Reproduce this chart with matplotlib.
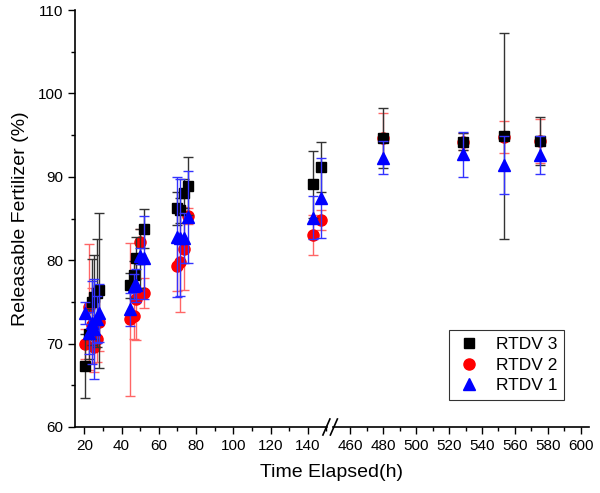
import numpy as np
import matplotlib
matplotlib.use("Agg")
import matplotlib.pyplot as plt
from matplotlib.lines import Line2D

plt.rcParams["font.family"] = ["Liberation Sans", "DejaVu Sans"]

# ==========================
# DATA
# ==========================

time_h = [20.5, 22.7, 24.0, 25.2, 26.6, 28.0,
          44.8, 46.5, 48.0, 49.7, 51.8,
          69.8, 71.6, 73.6, 75.5,
          142.6, 147.0,
          480, 528.5, 553.5, 575.5]

rtdv3 = [67.3, 71.2, 75.0, 75.6, 76.1, 76.4,
         77.0, 78.2, 80.3, 80.2, 83.8,
         86.2, 86.0, 88.0, 88.9,
         89.1, 91.2,
         94.6, 94.2, 94.9, 94.3]
rtdv3_err = [3.8, 3.0, 5.2, 5.0, 6.5, 9.3,
             1.5, 1.7, 2.5, 3.5, 2.3,
             2.0, 1.5, 1.7, 3.5,
             4.0, 3.0,
             3.6, 1.0, 12.3, 2.9]

rtdv2 = [70.0, 74.4, 72.2, 69.6, 70.6, 72.6,
         72.9, 73.3, 75.4, 82.2, 76.1,
         79.3, 79.8, 81.4, 85.3,
         83.0, 84.8,
         94.6, 94.2, 94.8, 94.3]
rtdv2_err = [1.8, 7.6, 4.5, 3.0, 2.8, 3.5,
             9.2, 2.8, 5.0, 1.5, 1.8,
             3.0, 6.0, 5.0, 1.0,
             2.4, 1.2,
             3.0, 1.0, 1.9, 2.6]

rtdv1 = [73.7, 71.3, 72.5, 71.8, 72.9, 73.7,
         74.1, 76.9, 77.0, 80.5, 80.3,
         82.8, 82.7, 82.7, 85.2,
         85.1, 87.5,
         92.3, 92.7, 91.4, 92.6]
rtdv1_err = [1.3, 2.5, 5.0, 6.0, 2.8, 3.5,
             2.0, 1.5, 2.0, 1.0, 5.0,
             7.2, 7.0, 3.0, 5.5,
             2.6, 4.8,
             2.0, 2.7, 3.5, 2.3]

left_ticks = [20, 40, 60, 80, 100, 120, 140]
right_ticks = [460, 480, 500, 520, 540, 560, 580, 600]


# ==========================
# BROKEN X SCALE
# ==========================

# piecewise linear: 15-150 on the left, 450-605 on the right, gap squeezed
XP = [-1000.0, 150.0, 450.0, 5000.0]
FP = [(-1000 - 15) * 1.867, (150 - 15) * 1.867, (150 - 15) * 1.867 + 7.5,
      (150 - 15) * 1.867 + 7.5 + (5000 - 450) * 1.65]


def fwd(x):
    return np.interp(x, XP, FP)


def inv(y):
    return np.interp(y, FP, XP)


fig = plt.figure(figsize=(6.0, 4.93), dpi=100)
ax = fig.add_axes([75 / 600, 1 - 427 / 493, 514 / 600, 417 / 493])
ax.set_xscale("function", functions=(fwd, inv))

# ==========================
# PLOT
# ==========================

ax.errorbar(time_h, rtdv2, yerr=rtdv2_err, fmt="o", color="#ff0000",
            ms=8, ecolor="#ff6666", elinewidth=1, capsize=3.5, zorder=3)
ax.errorbar(time_h, rtdv3, yerr=rtdv3_err, fmt="s", color="black",
            ms=7.5, ecolor="#333333", elinewidth=1, capsize=3.5, zorder=4)
ax.errorbar(time_h, rtdv1, yerr=rtdv1_err, fmt="^", color="#0000ff",
            ms=8.5, ecolor="#3333ff", elinewidth=1, capsize=3.5, zorder=5)

ax.set_xlim(15, 605)
ax.set_ylim(60, 110)

ax.set_xticks(left_ticks + right_ticks)
ax.set_xticklabels([str(t) for t in left_ticks + right_ticks])
minor_x = [t + 10 for t in left_ticks] + [t + 10 for t in right_ticks[:-1]]
ax.set_xticks(minor_x, minor=True)
ax.set_yticks([60, 70, 80, 90, 100, 110])
ax.set_yticks([65, 75, 85, 95, 105], minor=True)

ax.tick_params(axis="both", which="major", direction="out", length=5,
               width=1, labelsize=11)
ax.tick_params(axis="both", which="minor", direction="out", length=3,
               width=1)

ax.spines["top"].set_visible(False)
ax.spines["right"].set_visible(False)
ax.spines["bottom"].set_visible(False)
ax.spines["left"].set_linewidth(1.2)

# bottom axis line in two pieces with // break
total = fwd(605) - fwd(15)
f1 = (fwd(150) - fwd(15)) / total
f2 = (fwd(450) - fwd(15)) / total
ax.add_line(Line2D([0, f1 + 0.002], [0, 0], transform=ax.transAxes,
                   color="black", lw=1.2, clip_on=False))
ax.add_line(Line2D([f2 - 0.002, 1], [0, 0], transform=ax.transAxes,
                   color="black", lw=1.2, clip_on=False))
dx = 3.5 / 514
dy = 8 / 417
for c in (f1, f2):
    ax.add_line(Line2D([c - dx, c + dx], [-dy, dy], transform=ax.transAxes,
                       color="black", lw=1.2, clip_on=False))

ax.set_xlabel("Time Elapsed(h)", fontsize=14, labelpad=8)
ax.set_ylabel("Releasable Fertilizer (%)", fontsize=14, labelpad=6)

handles = [
    Line2D([], [], ls="none", marker="s", ms=7.5, color="black"),
    Line2D([], [], ls="none", marker="o", ms=8, color="#ff0000"),
    Line2D([], [], ls="none", marker="^", ms=8.5, color="#0000ff"),
]
leg = ax.legend(handles, ["RTDV 3", "RTDV 2", "RTDV 1"],
                loc="lower right", bbox_to_anchor=(0.952, 0.065),
                borderaxespad=0, fontsize=12.5, frameon=True, fancybox=False,
                handletextpad=0.8, handlelength=1.5,
                borderpad=0.4, labelspacing=0.3)
leg.get_frame().set_edgecolor("black")
leg.get_frame().set_linewidth(0.8)

fig.savefig("out.png", dpi=100)
